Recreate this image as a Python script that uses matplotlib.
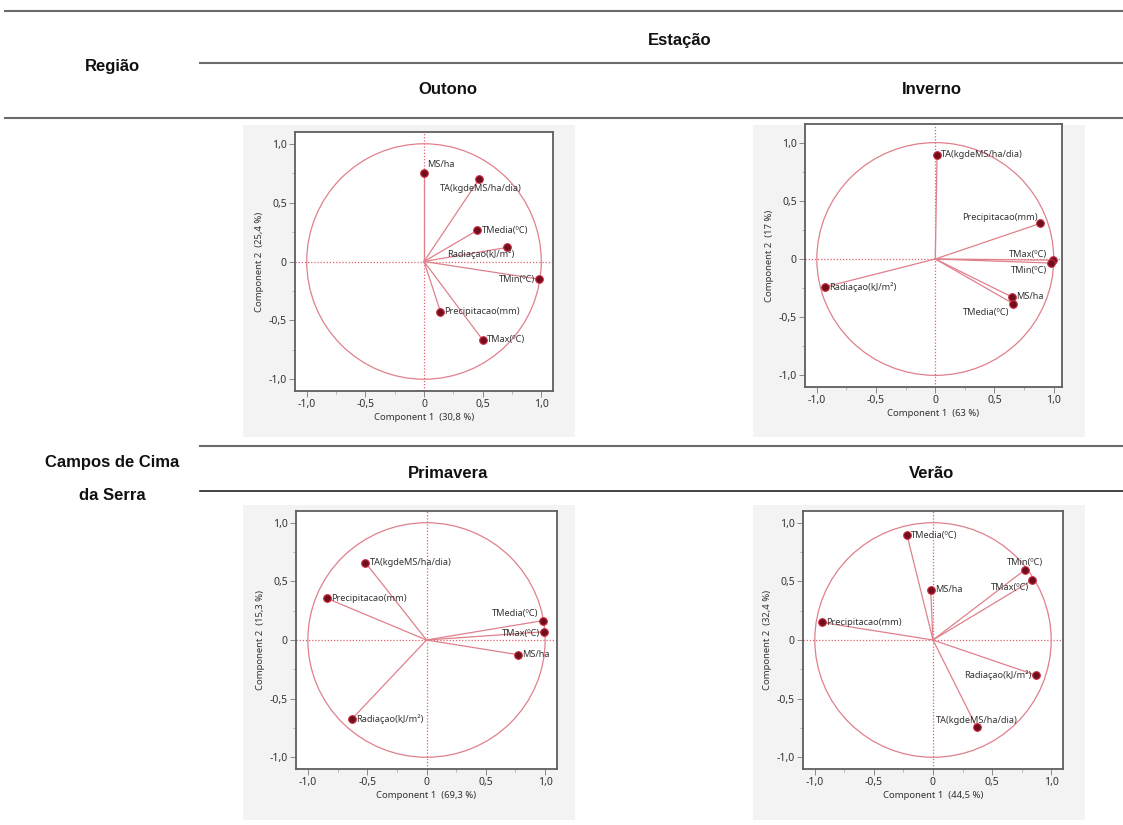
import matplotlib
matplotlib.use("Agg")
import matplotlib.pyplot as plt
from matplotlib.lines import Line2D
from matplotlib.patches import Rectangle, Circle

# === 0. Dados: cargas das variáveis nas duas primeiras componentes ===
seasons = ["Outono", "Inverno", "Primavera", "Verão"]
pc1_pct = ["30,8", "63", "69,3", "44,5"]
pc2_pct = ["25,4", "17", "15,3", "32,4"]

outono_vars = ["MS/ha", "TA(kgdeMS/ha/dia)", "TMedia(ºC)", "Radiaçao(kJ/m²)",
               "TMin(ºC)", "Precipitacao(mm)", "TMax(ºC)"]
outono_pc1 = [0.00, 0.47, 0.455, 0.71, 0.98, 0.14, 0.50]
outono_pc2 = [0.755, 0.70, 0.265, 0.12, -0.15, -0.425, -0.665]

inverno_vars = ["TA(kgdeMS/ha/dia)", "Precipitacao(mm)", "TMax(ºC)", "TMin(ºC)",
                "MS/ha", "TMedia(ºC)", "Radiaçao(kJ/m²)"]
inverno_pc1 = [0.015, 0.885, 0.99, 0.98, 0.645, 0.66, -0.93]
inverno_pc2 = [0.895, 0.305, -0.01, -0.035, -0.325, -0.385, -0.24]

primavera_vars = ["TA(kgdeMS/ha/dia)", "Precipitacao(mm)", "TMedia(ºC)", "TMax(ºC)",
                  "MS/ha", "Radiaçao(kJ/m²)"]
primavera_pc1 = [-0.515, -0.84, 0.98, 0.99, 0.77, -0.63]
primavera_pc2 = [0.66, 0.355, 0.165, 0.07, -0.125, -0.675]

verao_vars = ["TMedia(ºC)", "TMin(ºC)", "TMax(ºC)", "MS/ha", "Precipitacao(mm)",
              "Radiaçao(kJ/m²)", "TA(kgdeMS/ha/dia)"]
verao_pc1 = [-0.22, 0.78, 0.84, -0.02, -0.94, 0.87, 0.37]
verao_pc2 = [0.895, 0.60, 0.51, 0.43, 0.15, -0.30, -0.745]

tick_vals = [-1.0, -0.5, 0.0, 0.5, 1.0]
tick_labels = ["-1,0", "-0,5", "0", "0,5", "1,0"]

# === 1. Posição dos rótulos (dx, dy em pontos, alinhamento) ===
outono_lbl = [(2, 6, "left"), (1, -7, "center"), (3, 0, "left"), (5, -5, "right"),
              (-3, 0, "right"), (3, 0, "left"), (3, 0, "left")]
inverno_lbl = [(3, 0, "left"), (-2, 4, "right"), (-4, 4, "right"), (-3, -5, "right"),
               (3, 0, "left"), (-3, -6, "right"), (3, 0, "left")]
primavera_lbl = [(3, 0, "left"), (3, 0, "left"), (-3, 5, "right"), (-3, -1, "right"),
                 (3, 0, "left"), (3, 0, "left")]
verao_lbl = [(3, 0, "left"), (0, 5, "center"), (-2, -5, "right"), (3, 0, "left"),
             (3, 0, "left"), (-3, 0, "right"), (0, 5, "center")]

panels = [
    (outono_vars, outono_pc1, outono_pc2, outono_lbl),
    (inverno_vars, inverno_pc1, inverno_pc2, inverno_lbl),
    (primavera_vars, primavera_pc1, primavera_pc2, primavera_lbl),
    (verao_vars, verao_pc1, verao_pc2, verao_lbl),
]

# caixas dos eixos em pixels (esq, topo, dir, base) e limites
boxes = [(295, 132, 553, 391), (805, 124, 1062, 387),
         (296, 511, 557, 769), (803, 511, 1063, 769)]
limits = [((-1.1, 1.1), (-1.1, 1.1)), ((-1.1, 1.07), (-1.1, 1.16)),
          ((-1.1, 1.1), (-1.1, 1.1)), ((-1.1, 1.1), (-1.1, 1.1))]
backs = [(243, 125, 575, 437), (753, 125, 1085, 437),
         (243, 505, 575, 820), (753, 505, 1085, 820)]

W, H = 1123, 825
plt.rcParams["font.family"] = ["Noto Sans", "DejaVu Sans"]

fig = plt.figure(figsize=(W / 100, H / 100), dpi=100)


def fx(x):
    return x / W


def fy(y):
    return 1 - y / H


LINE = "#e0808b"
DOT = "#e0606f"

# === 2. Fundo cinza de cada painel ===
for l, t, r, b in backs:
    fig.add_artist(Rectangle((fx(l), fy(b)), fx(r) - fx(l), fy(t) - fy(b),
                             transform=fig.transFigure, facecolor="#f3f3f3",
                             edgecolor="none", zorder=0))

# === 3. Círculos de correlação ===
for i, (names, xs, ys, lbl) in enumerate(panels):
    l, t, r, b = boxes[i]
    ax = fig.add_axes([fx(l), fy(b), fx(r) - fx(l), fy(t) - fy(b)])
    ax.set_xlim(*limits[i][0])
    ax.set_ylim(*limits[i][1])

    ax.add_patch(Circle((0, 0), 1.0, fill=False, edgecolor=LINE, lw=0.9, zorder=2))
    ax.axhline(0, color=DOT, ls=(0, (1, 1.5)), lw=0.9, zorder=1)
    ax.axvline(0, color=DOT, ls=(0, (1, 1.5)), lw=0.9, zorder=1)

    for x, y in zip(xs, ys):
        ax.plot([0, x], [0, y], color=LINE, lw=0.9, zorder=3)
    ax.scatter(xs, ys, s=30, c="#6e0f1d", edgecolors="#c8283c", linewidths=0.8, zorder=4)

    for name, x, y, (dx, dy, ha) in zip(names, xs, ys, lbl):
        ax.annotate(name, (x, y), xytext=(dx, dy), textcoords="offset points",
                    ha=ha, va="center", fontsize=6.6, color="#333333", zorder=5)

    ax.set_xticks(tick_vals, tick_labels)
    ax.set_yticks(tick_vals, tick_labels)
    ax.set_xticks([-0.75, -0.25, 0.25, 0.75], minor=True)
    ax.set_yticks([-0.75, -0.25, 0.25, 0.75], minor=True)
    ax.tick_params(which="major", length=4, width=0.7, color="#888888",
                   labelsize=7.5, labelcolor="#333333", pad=2)
    ax.tick_params(which="minor", length=2, width=0.6, color="#aaaaaa")
    ax.set_xlabel(f"Component 1  ({pc1_pct[i]} %)", fontsize=6.8, color="#333333", labelpad=2)
    ax.set_ylabel(f"Component 2  ({pc2_pct[i]} %)", fontsize=6.8, color="#333333", labelpad=3)
    for s in ax.spines.values():
        s.set_color("#5e5e5e")
        s.set_linewidth(1.3)

# === 4. Linhas e cabeçalhos da tabela ===
def hline(y, x0, x1, color="#6a6a6a", lw=1.5):
    fig.add_artist(Line2D([fx(x0), fx(x1)], [fy(y), fy(y)], transform=fig.transFigure,
                          color=color, lw=lw))


hline(11, 5, W)
hline(63, 200, W)
hline(118, 5, W)
hline(446, 200, W)
hline(491, 200, W, color="#222222", lw=1.2)

head = dict(family=["Liberation Sans", "DejaVu Sans"], fontweight="bold",
            fontsize=12, color="#111111", ha="center", va="center")
fig.text(fx(680), fy(40), "Estação", **head)
fig.text(fx(112), fy(67), "Região", **head)
fig.text(fx(448), fy(89), seasons[0], **head)
fig.text(fx(932), fy(89), seasons[1], **head)
fig.text(fx(448), fy(473), seasons[2], **head)
fig.text(fx(932), fy(473), seasons[3], **head)
fig.text(fx(112), fy(463), "Campos de Cima", **head)
fig.text(fx(112), fy(495), "da Serra", **head)

fig.savefig("out.png", dpi=100)
